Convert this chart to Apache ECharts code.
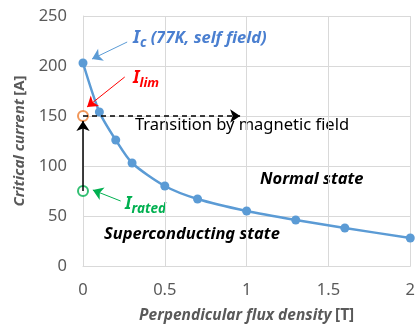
<!DOCTYPE html>
<html>
<head>
<meta charset="utf-8">
<script src="https://cdn.jsdelivr.net/npm/echarts@6/dist/echarts.min.js"></script>
<style>
  html, body { margin: 0; padding: 0; background: #fff; }
  #chart { width: 418px; height: 332px; }
</style>
</head>
<body>
<div id="chart"></div>
<script>
// flux density [T] and critical current [A]
const fluxDensity = [0, 0.1, 0.2, 0.3, 0.5, 0.7, 1.0, 1.3, 1.6, 2.0];
const criticalCurrent = [203, 154, 126, 103, 80, 67, 55, 46, 38, 28];

// operating points at zero field
const limitPoint = [0, 150];
const ratedPoint = [0, 75];
const transitionEndX = 0.96;

const xTicks = { min: 0, max: 2, interval: 0.5 };
const yTicks = { min: 0, max: 250, interval: 50 };

const chartDom = document.getElementById('chart');
const myChart = echarts.init(chartDom);

const font = 'Noto Sans';
const gray = '#595959';

const option = {
    animation: false,
    grid: { left: 83, right: 4, top: 16, bottom: 66 },
    xAxis: {
        type: 'value',
        min: xTicks.min, max: xTicks.max, interval: xTicks.interval,
        name: '{b|Perpendicular flux density} {n|[T]}',
        nameLocation: 'middle',
        nameGap: 42,
        nameTextStyle: {
            rich: {
                b: { fontFamily: font, fontSize: 15.5, fontWeight: 'bold', fontStyle: 'italic', color: gray },
                n: { fontFamily: font, fontSize: 15.5, fontWeight: 'bold', color: gray }
            }
        },
        axisLine: { show: true, lineStyle: { color: '#d9d9d9' } },
        axisTick: { show: false },
        axisLabel: { fontFamily: font, fontSize: 16.5, color: gray, margin: 16 },
        splitLine: { show: true, lineStyle: { color: '#d9d9d9' } }
    },
    yAxis: {
        type: 'value',
        min: yTicks.min, max: yTicks.max, interval: yTicks.interval,
        name: '{b|Critical current} {n|[A]}',
        nameLocation: 'middle',
        nameGap: 56,
        nameTextStyle: {
            rich: {
                b: { fontFamily: font, fontSize: 15, fontWeight: 'bold', fontStyle: 'italic', color: gray },
                n: { fontFamily: font, fontSize: 15, fontWeight: 'bold', color: gray }
            }
        },
        axisLine: { show: true, lineStyle: { color: '#d9d9d9' } },
        axisTick: { show: false },
        axisLabel: { fontFamily: font, fontSize: 16.5, color: gray, margin: 16 },
        splitLine: { show: true, lineStyle: { color: '#d9d9d9' } }
    },
    series: [
        {
            type: 'line',
            data: fluxDensity.map((x, i) => [x, criticalCurrent[i]]),
            smooth: 0.25,
            symbol: 'circle',
            symbolSize: 9,
            lineStyle: { color: '#5b9bd5', width: 2.5 },
            itemStyle: { color: '#5b9bd5' },
            z: 3
        },
        {
            // arrows
            type: 'line',
            data: [],
            markLine: {
                silent: true,
                symbol: ['none', 'arrow'],
                symbolSize: 10,
                label: { show: false },
                data: [
                    [{ coord: ratedPoint, symbolSize: 11, lineStyle: { color: '#000', width: 1.5, type: 'solid' } }, { coord: [0, 145] }],
                    [{ coord: limitPoint, symbolSize: 11, lineStyle: { color: '#000', width: 1.5, type: [5, 4] } }, { coord: [transitionEndX, 150] }],
                    [{ coord: [0.27, 224], lineStyle: { color: '#5b9bd5', width: 1, type: 'solid' } }, { coord: [0.055, 207] }],
                    [{ coord: [0.255, 189], lineStyle: { color: '#ff0000', width: 1, type: 'solid' } }, { coord: [0.025, 159] }],
                    [{ coord: [0.23, 65], lineStyle: { color: '#00b050', width: 1, type: 'solid' } }, { coord: [0.06, 76] }]
                ]
            },
            z: 2
        },
        {
            type: 'scatter',
            data: [
                { value: limitPoint, itemStyle: { borderColor: '#ed7d31' } },
                { value: ratedPoint, itemStyle: { borderColor: '#00b050' } }
            ],
            symbol: 'circle',
            symbolSize: 10,
            itemStyle: { color: '#fff', borderWidth: 2 },
            z: 4
        }
    ],
    graphic: [
        {
            type: 'text', left: 133, top: 29,
            style: {
                text: '{i|I}{s|c}{t| (77K, self field)}',
                rich: {
                    i: { fontFamily: font, fontSize: 18, fontWeight: 'bold', fontStyle: 'italic', fill: '#4a7fd0' },
                    s: { fontFamily: font, fontSize: 13.5, fontWeight: 'bold', fontStyle: 'italic', fill: '#4a7fd0', padding: [10, 0, 0, 0] },
                    t: { fontFamily: font, fontSize: 16.5, fontWeight: 'bold', fontStyle: 'italic', fill: '#4a7fd0' }
                }
            }
        },
        {
            type: 'text', left: 133, top: 70,
            style: {
                text: '{i|I}{s|lim}',
                rich: {
                    i: { fontFamily: font, fontSize: 17, fontWeight: 'bold', fontStyle: 'italic', fill: '#ff0000' },
                    s: { fontFamily: font, fontSize: 13, fontWeight: 'bold', fontStyle: 'italic', fill: '#ff0000', padding: [10, 0, 0, 0] }
                }
            }
        },
        {
            type: 'text', left: 125, top: 196,
            style: {
                text: '{i|I}{s|rated}',
                rich: {
                    i: { fontFamily: font, fontSize: 17, fontWeight: 'bold', fontStyle: 'italic', fill: '#00b050' },
                    s: { fontFamily: font, fontSize: 13.5, fontWeight: 'bold', fontStyle: 'italic', fill: '#00b050', padding: [10, 0, 0, 0] }
                }
            }
        },
        {
            type: 'text', left: 135, top: 117,
            style: { text: 'Transition by magnetic field', fontFamily: font, fontSize: 16.5, fill: '#000' }
        },
        {
            type: 'text', left: 260, top: 171,
            style: { text: 'Normal state', fontFamily: font, fontSize: 16.5, fontWeight: 'bold', fontStyle: 'italic', fill: '#000' }
        },
        {
            type: 'text', left: 104, top: 226,
            style: { text: 'Superconducting state', fontFamily: font, fontSize: 16.5, fontWeight: 'bold', fontStyle: 'italic', fill: '#000' }
        }
    ]
};

myChart.setOption(option);
</script>
</body>
</html>
